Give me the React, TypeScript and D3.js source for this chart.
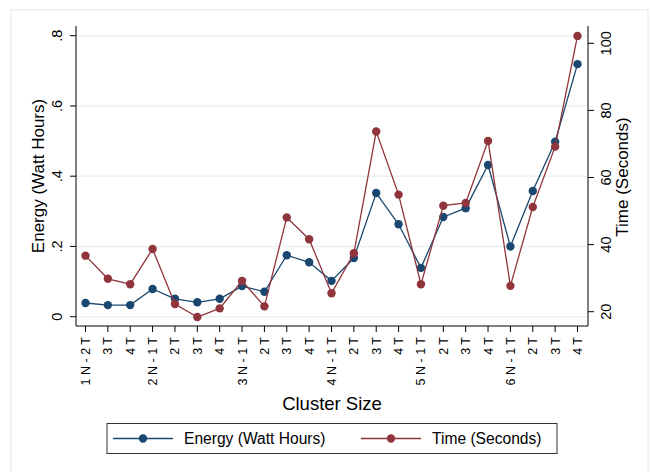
import React from "react";
import * as d3 from "d3";

const categories = [
  "1 N - 2 T", "3 T", "4 T",
  "2 N - 1 T", "2 T", "3 T", "4 T",
  "3 N - 1 T", "2 T", "3 T", "4 T",
  "4 N - 1 T", "2 T", "3 T", "4 T",
  "5 N - 1 T", "2 T", "3 T", "4 T",
  "6 N - 1 T", "2 T", "3 T", "4 T",
];

const energy = [
  0.039, 0.033, 0.033,
  0.079, 0.051, 0.041, 0.051,
  0.087, 0.071, 0.175, 0.155,
  0.102, 0.167, 0.352, 0.263,
  0.139, 0.284, 0.309, 0.432,
  0.200, 0.358, 0.498, 0.719,
];

const time = [
  36.7, 29.8, 28.2,
  38.7, 22.3, 18.4, 21.0,
  29.2, 21.6, 48.1, 41.6,
  25.5, 37.4, 73.7, 54.9,
  28.2, 51.6, 52.4, 70.9,
  27.7, 51.2, 69.2, 102.2,
];

const energyTicks = [0, 0.2, 0.4, 0.6, 0.8];
const energyTickLabels = ["0", ".2", ".4", ".6", ".8"];
const timeTicks = [20, 40, 60, 80, 100];

const BLUE = "#1a476f";
const RED = "#90353b";
const FONT = "'Liberation Sans', Arial, Helvetica, sans-serif";

export default function App() {
  const W = 652, H = 472;
  const plotL = 76, plotR = 588, plotT = 26, plotB = 326;

  const x = d3.scalePoint<number>()
    .domain(categories.map((_, i) => i))
    .range([85.5, 577.5]);
  const yE = d3.scaleLinear().domain([0, 0.8]).range([316.7, 35.7]);
  const yT = d3.scaleLinear().domain([20, 100]).range([311.7, 43.3]);

  const lineE = d3.line<number>().x((_, i) => x(i)!).y(d => yE(d));
  const lineT = d3.line<number>().x((_, i) => x(i)!).y(d => yT(d));

  const legendY = 438.5;

  return (
    <svg width={W} height={H} style={{ position: "absolute", left: 0, top: 0, background: "#fff" }}
      fontFamily={FONT}>
      <rect x={11} y={10} width={637} height={480} fill="#fff" stroke="#e8efef" strokeWidth={1.5} />

      {/* gridlines */}
      {energyTicks.map((t, i) => (
        <line key={"g" + i} x1={plotL} x2={plotR} y1={yE(t)} y2={yE(t)} stroke="#eaf2f3" strokeWidth={1.5} />
      ))}

      {/* axes lines */}
      <line x1={plotL} x2={plotL} y1={plotT} y2={plotB} stroke="#000" strokeWidth={1} />
      <line x1={plotR} x2={plotR} y1={plotT} y2={plotB} stroke="#000" strokeWidth={1} />
      <line x1={plotL} x2={plotR} y1={plotB} y2={plotB} stroke="#000" strokeWidth={1} />

      {/* left ticks */}
      {energyTicks.map((t, i) => (
        <g key={"le" + i}>
          <line x1={plotL - 6} x2={plotL} y1={yE(t)} y2={yE(t)} stroke="#000" strokeWidth={1} />
          <text transform={`translate(${62},${yE(t)}) rotate(-90)`} textAnchor="middle" fontSize={14.5}>
            {energyTickLabels[i]}
          </text>
        </g>
      ))}
      <text transform={`translate(44,176) rotate(-90)`} textAnchor="middle" fontSize={17}>
        Energy (Watt Hours)
      </text>

      {/* right ticks */}
      {timeTicks.map((t, i) => (
        <g key={"rt" + i}>
          <line x1={plotR} x2={plotR + 6} y1={yT(t)} y2={yT(t)} stroke="#000" strokeWidth={1} />
          <text transform={`translate(${611},${yT(t)}) rotate(-90)`} textAnchor="middle" fontSize={14.5}>
            {t}
          </text>
        </g>
      ))}
      <text transform={`translate(628,177) rotate(-90)`} textAnchor="middle" fontSize={17}>
        Time (Seconds)
      </text>

      {/* x ticks */}
      {categories.map((c, i) => (
        <g key={"xt" + i}>
          <line x1={x(i)} x2={x(i)} y1={plotB} y2={plotB + 6} stroke="#000" strokeWidth={1} />
          <text transform={`translate(${x(i)! + 4.5},${337}) rotate(-90)`} textAnchor="end" fontSize={12.5}>
            {c}
          </text>
        </g>
      ))}
      <text x={(plotL + plotR) / 2} y={410} textAnchor="middle" fontSize={18.5}>Cluster Size</text>

      {/* series */}
      <path d={lineE(energy)!} fill="none" stroke={BLUE} strokeWidth={1.3} />
      {energy.map((v, i) => (
        <circle key={"e" + i} cx={x(i)} cy={yE(v)} r={4.2} fill={BLUE} />
      ))}
      <path d={lineT(time)!} fill="none" stroke={RED} strokeWidth={1.3} />
      {time.map((v, i) => (
        <circle key={"t" + i} cx={x(i)} cy={yT(v)} r={4.2} fill={RED} />
      ))}

      {/* legend */}
      <rect x={107} y={423.5} width={450} height={30} fill="#fff" stroke="#333" strokeWidth={1} />
      <line x1={113} x2={173} y1={legendY} y2={legendY} stroke={BLUE} strokeWidth={1.3} />
      <circle cx={143} cy={legendY} r={4.2} fill={BLUE} />
      <text x={184} y={legendY + 5.5} fontSize={15.6}>Energy (Watt Hours)</text>
      <line x1={361} x2={421} y1={legendY} y2={legendY} stroke={RED} strokeWidth={1.3} />
      <circle cx={391} cy={legendY} r={4.2} fill={RED} />
      <text x={432} y={legendY + 5.5} fontSize={15.6}>Time (Seconds)</text>
    </svg>
  );
}
